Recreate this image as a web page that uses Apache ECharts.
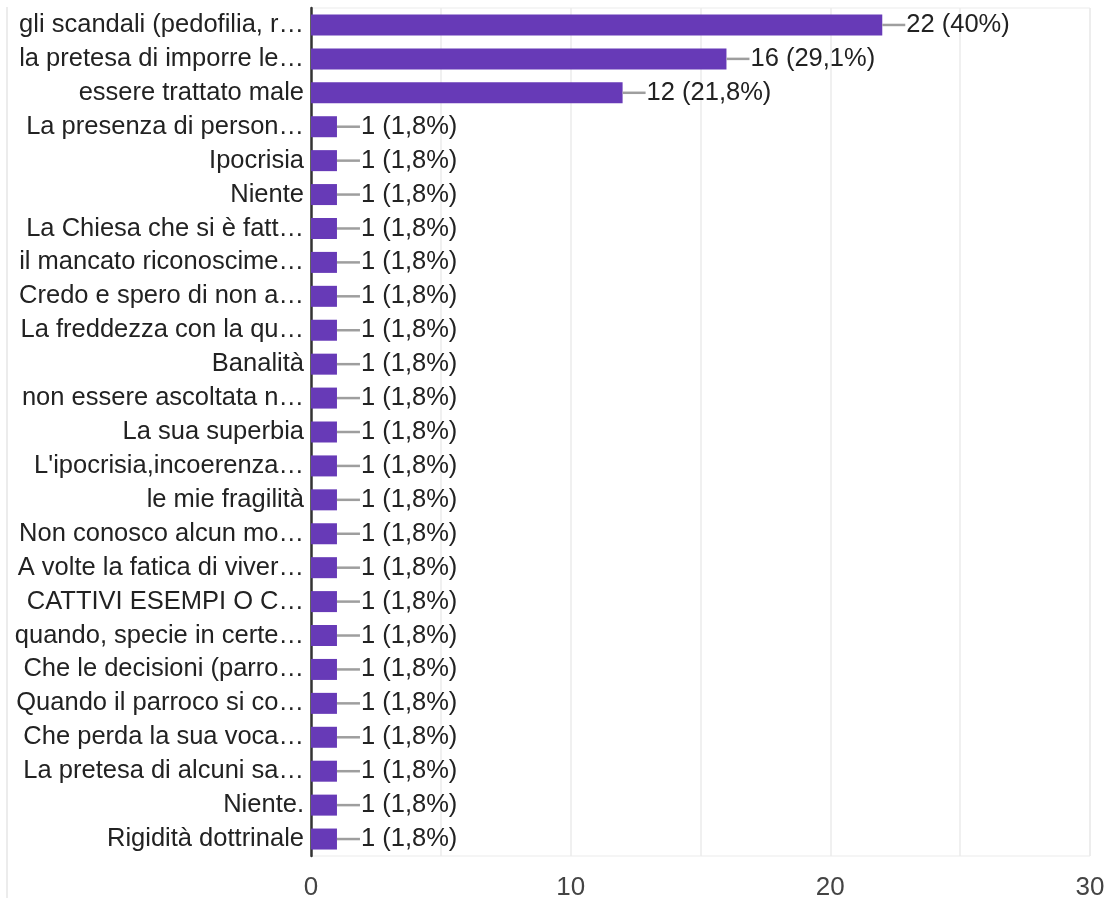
<!DOCTYPE html>
<html>
<head>
<meta charset="utf-8">
<script src="https://cdn.jsdelivr.net/npm/echarts@6/dist/echarts.min.js"></script>
<style>
html,body{margin:0;padding:0;background:#fff;}
#chart{width:1107px;height:898px;}
</style>
</head>
<body>
<div id="chart"></div>
<script>
const categories = [
  "gli scandali (pedofilia, r…",
  "la pretesa di imporre le…",
  "essere trattato male",
  "La presenza di person…",
  "Ipocrisia",
  "Niente",
  "La Chiesa che si è fatt…",
  "il mancato riconoscime…",
  "Credo e spero di non a…",
  "La freddezza con la qu…",
  "Banalità",
  "non essere ascoltata n…",
  "La sua superbia",
  "L'ipocrisia,incoerenza…",
  "le mie fragilità",
  "Non conosco alcun mo…",
  "A volte la fatica di viver…",
  "CATTIVI ESEMPI O C…",
  "quando, specie in certe…",
  "Che le decisioni (parro…",
  "Quando il parroco si co…",
  "Che perda la sua voca…",
  "La pretesa di alcuni sa…",
  "Niente.",
  "Rigidità dottrinale"
];
const counts = [22, 16, 12, 1, 1, 1, 1, 1, 1, 1, 1, 1, 1, 1, 1, 1, 1, 1, 1, 1, 1, 1, 1, 1, 1];
const percents = ["40%", "29,1%", "21,8%", "1,8%", "1,8%", "1,8%", "1,8%", "1,8%", "1,8%", "1,8%", "1,8%", "1,8%", "1,8%", "1,8%", "1,8%", "1,8%", "1,8%", "1,8%", "1,8%", "1,8%", "1,8%", "1,8%", "1,8%", "1,8%", "1,8%"];
const xTickLabels = [0, 10, 20, 30];

const FONT = "'Liberation Sans', Arial, sans-serif";
const chart = echarts.init(document.getElementById('chart'), null, {renderer: 'canvas'});
chart.setOption({
  animation: false,
  textStyle: {fontFamily: FONT},
  grid: {left: 311, right: 17, top: 8, bottom: 42, containLabel: false,
         outerBoundsMode: 'none',
         show: true, borderColor: '#ebebeb', borderWidth: 1},
  graphic: [{
    type: 'line', shape: {x1: 7, y1: 7, x2: 7, y2: 898},
    style: {stroke: '#e6e6e6', lineWidth: 1.5}
  }],
  xAxis: {
    type: 'value', min: 0, max: 30, interval: 5,
    axisLine: {show: false}, axisTick: {show: false},
    splitLine: {lineStyle: {color: '#ebebeb', width: 1.5}},
    axisLabel: {
      color: '#444', fontSize: 26, fontFamily: FONT, margin: 19,
      formatter: v => xTickLabels.indexOf(v) >= 0 ? String(v) : ''
    }
  },
  yAxis: {
    type: 'category', data: categories, inverse: true,
    axisLine: {show: true, lineStyle: {color: '#333', width: 2.5}},
    axisTick: {show: false},
    axisLabel: {color: '#222', fontSize: 25.5, fontFamily: FONT, margin: 7,
                interval: 0, hideOverlap: false, lineHeight: 26}
  },
  series: [{
    type: 'bar', data: counts, barWidth: 21,
    itemStyle: {color: '#673ab7'},
    label: {
      show: true, position: 'right', distance: 0,
      formatter: p => '{ln|}{t|' + p.value + ' (' + percents[p.dataIndex] + ')}',
      rich: {
        ln: {width: 23, height: 2.5, backgroundColor: '#9e9e9e', verticalAlign: 'middle'},
        t: {fontSize: 25.5, color: '#222', fontFamily: FONT, padding: [0, 0, 0, 1], verticalAlign: 'middle'}
      }
    }
  }]
});
</script>
</body>
</html>
